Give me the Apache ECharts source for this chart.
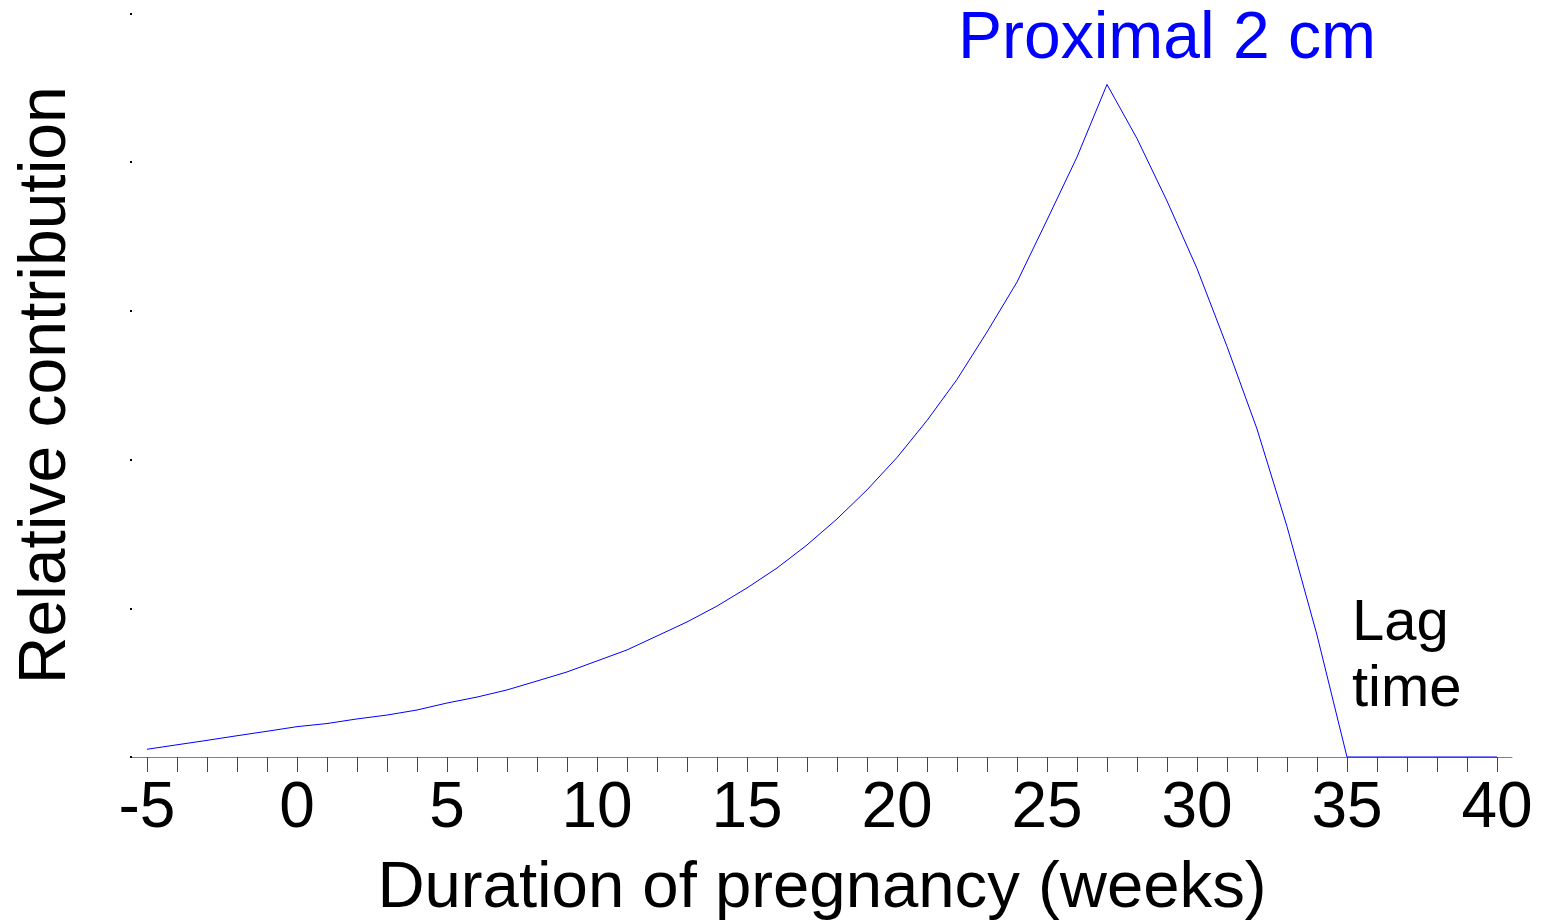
<!DOCTYPE html>
<html>
<head>
<meta charset="utf-8">
<script src="https://cdn.jsdelivr.net/npm/echarts@6/dist/echarts.min.js"></script>
<style>
html,body{margin:0;padding:0;background:#fff;}
#chart{width:1541px;height:922px;}
</style>
</head>
<body>
<div id="chart"></div>
<script>
// Duration of pregnancy (weeks)
var weeks = [-5,-4,-3,-2,-1,0,1,2,3,4,5,6,7,8,9,10,11,12,13,14,15,16,17,18,19,20,21,22,23,24,25,26,27,28,29,30,31,32,33,34,35,36,37,38,39,40];
// Relative contribution (arbitrary units, axis 0..5)
var contribution = [0.052,0.082,0.112,0.143,0.173,0.204,0.225,0.256,0.282,0.316,0.363,0.403,0.451,0.511,0.572,0.646,0.720,0.814,0.908,1.015,1.137,1.271,1.426,1.601,1.796,2.014,2.263,2.539,2.858,3.194,3.611,4.035,4.523,4.159,3.739,3.285,2.761,2.206,1.550,0.820,0,0,0,0,0,0];
var xTickLabels = [-5,0,5,10,15,20,25,30,35,40];
var seriesName = 'Proximal 2 cm';
var lagLabel = 'Lag\ntime';

var FONT = '"Liberation Sans", Arial, sans-serif';
var chart = echarts.init(document.getElementById('chart'), null, {renderer:'canvas'});
var data = weeks.map(function(w,i){return [w, contribution[i]];});

chart.setOption({
  animation:false,
  backgroundColor:'#fff',
  title:[
    {text:seriesName, left:958, top:7, padding:0,
     textStyle:{fontFamily:FONT, fontSize:66, fontWeight:'normal', color:'#0000ff', lineHeight:66}},
    {text:lagLabel, left:1352, top:591, padding:0,
     textStyle:{fontFamily:FONT, fontSize:58, fontWeight:'normal', color:'#000', lineHeight:66}}
  ],
  grid:[
    {left:132, right:29, top:13.5, bottom:165, containLabel:false, outerBoundsMode:'none'},
    {left:147, right:44, top:13.5, bottom:165, containLabel:false, outerBoundsMode:'none'}
  ],
  xAxis:[
    {type:'value', gridIndex:0, min:-5.5, max:40.5, position:'bottom',
     axisLine:{show:true, onZero:false, lineStyle:{color:'#808080', width:1}},
     axisTick:{show:false}, axisLabel:{show:false}, splitLine:{show:false}},
    {type:'value', gridIndex:1, min:-5, max:40, interval:1, position:'bottom',
     name:'Duration of pregnancy (weeks)', nameLocation:'middle', nameGap:99,
     nameTextStyle:{fontFamily:FONT, fontSize:65.3, color:'#000', lineHeight:66},
     axisLine:{show:false, onZero:false},
     axisTick:{show:true, inside:false, length:15, lineStyle:{color:'#444', width:1}},
     axisLabel:{show:true, margin:20, fontFamily:FONT, fontSize:64, color:'#000', lineHeight:64,
       formatter:function(v){return xTickLabels.indexOf(v)>=0 ? String(v) : '';}},
     splitLine:{show:false}}
  ],
  yAxis:[
    {type:'value', gridIndex:0, min:0, max:5, interval:1, position:'left',
     name:'Relative contribution', nameLocation:'middle', nameGap:52, nameRotate:90,
     nameTextStyle:{fontFamily:FONT, fontSize:66, color:'#000', lineHeight:66},
     axisLine:{show:false, onZero:false},
     axisTick:{show:true, inside:false, length:2, lineStyle:{color:'#000', width:2}},
     axisLabel:{show:false}, splitLine:{show:false}},
    {type:'value', gridIndex:1, min:0, max:5, show:false}
  ],
  series:[
    {type:'line', name:seriesName, xAxisIndex:0, yAxisIndex:0, data:data,
     symbol:'none', clip:false,
     lineStyle:{color:'#0000ff', width:1}}
  ]
});
</script>
</body>
</html>
